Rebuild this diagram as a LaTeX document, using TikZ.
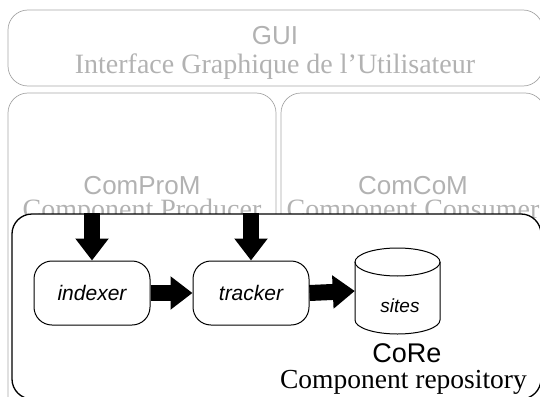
\documentclass[tikz,border=0pt]{standalone}
\usepackage{fontspec}
\setmainfont{Liberation Serif}
\setsansfont{Liberation Sans}
\usetikzlibrary{arrows.meta}
\begin{document}
\begin{tikzpicture}[x=1pt,y=-1pt,
  graybox/.style={draw=gray!70, line width=0.7pt, rounded corners=20pt, inner sep=0pt},
  graysans/.style={text=gray!60, font=\fontsize{26}{28}\selectfont\sffamily, anchor=base, inner sep=0pt},
  grayserif/.style={text=gray!60, font=\fontsize{28}{30}\selectfont\rmfamily, anchor=base, inner sep=0pt},
  procbox/.style={draw, line width=1pt, rounded corners=18pt, minimum width=116pt, minimum height=64pt, inner sep=0pt, fill=white, font=\fontsize{21}{24}\selectfont\sffamily\itshape},
  fatarrow/.style={line width=16pt, -{Triangle[width=32pt,length=22pt]}},
  blacksans/.style={font=\fontsize{27}{29}\selectfont\sffamily, anchor=base, inner sep=0pt},
  blackserif/.style={font=\fontsize{27.5}{30}\selectfont\rmfamily, anchor=base, inner sep=0pt},
  dbline/.style={line width=1pt}
]
\useasboundingbox (0,0) rectangle (540,396);
\clip (0,0) rectangle (540,396);
% grey upper layers
\node[graybox, minimum width=535pt, minimum height=76pt] (gui) at (275.5,48) {};
\node[graysans] (guit) at (275,45) {GUI};
\node[grayserif] (guis) at (275,74) {Interface Graphique de l’Utilisateur};
\node[graybox, minimum width=268pt, minimum height=327pt] (prod) at (142,256.5) {};
\node[graybox, minimum width=264pt, minimum height=327pt] (cons) at (413,256.5) {};
\node[graysans] (prodt) at (142,194) {ComProM};
\node[grayserif] (prods) at (142,218) {Component Producer};
\node[graysans] (const) at (413,194) {ComCoM};
\node[grayserif] (conss) at (413,218) {Component Consumer};
% repository
\node[draw, line width=1.3pt, rounded corners=20pt, fill=white, minimum width=529pt, minimum height=185pt, inner sep=0pt] (core) at (276.5,306.5) {};
\node[procbox] (indexer) at (92,293) {indexer};
\node[procbox] (tracker) at (251,293) {tracker};
% database cylinder
\node[minimum width=85pt, minimum height=86pt, inner sep=0pt] (db) at (397.5,291) {};
\draw[dbline] (355,262) -- (355,320) arc[start angle=180, end angle=0, x radius=42.5, y radius=14] -- (440,262);
\draw[dbline] (397.5,262) ellipse [x radius=42.5, y radius=14];
\node[font=\fontsize{19}{22}\selectfont\sffamily\itshape] (sites) at (400,306) {sites};
\node[blacksans] (coret) at (407,362) {CoRe};
\node[blackserif] (cores) at (403.5,388) {Component repository};
% arrows
\draw[fatarrow] (core.north -| indexer) -- (indexer.north);
\draw[fatarrow] (core.north -| tracker) -- (tracker.north);
\draw[fatarrow] (indexer.east) -- (tracker.west);
\draw[fatarrow] (tracker.east) -- (db.west);
\end{tikzpicture}
\end{document}
